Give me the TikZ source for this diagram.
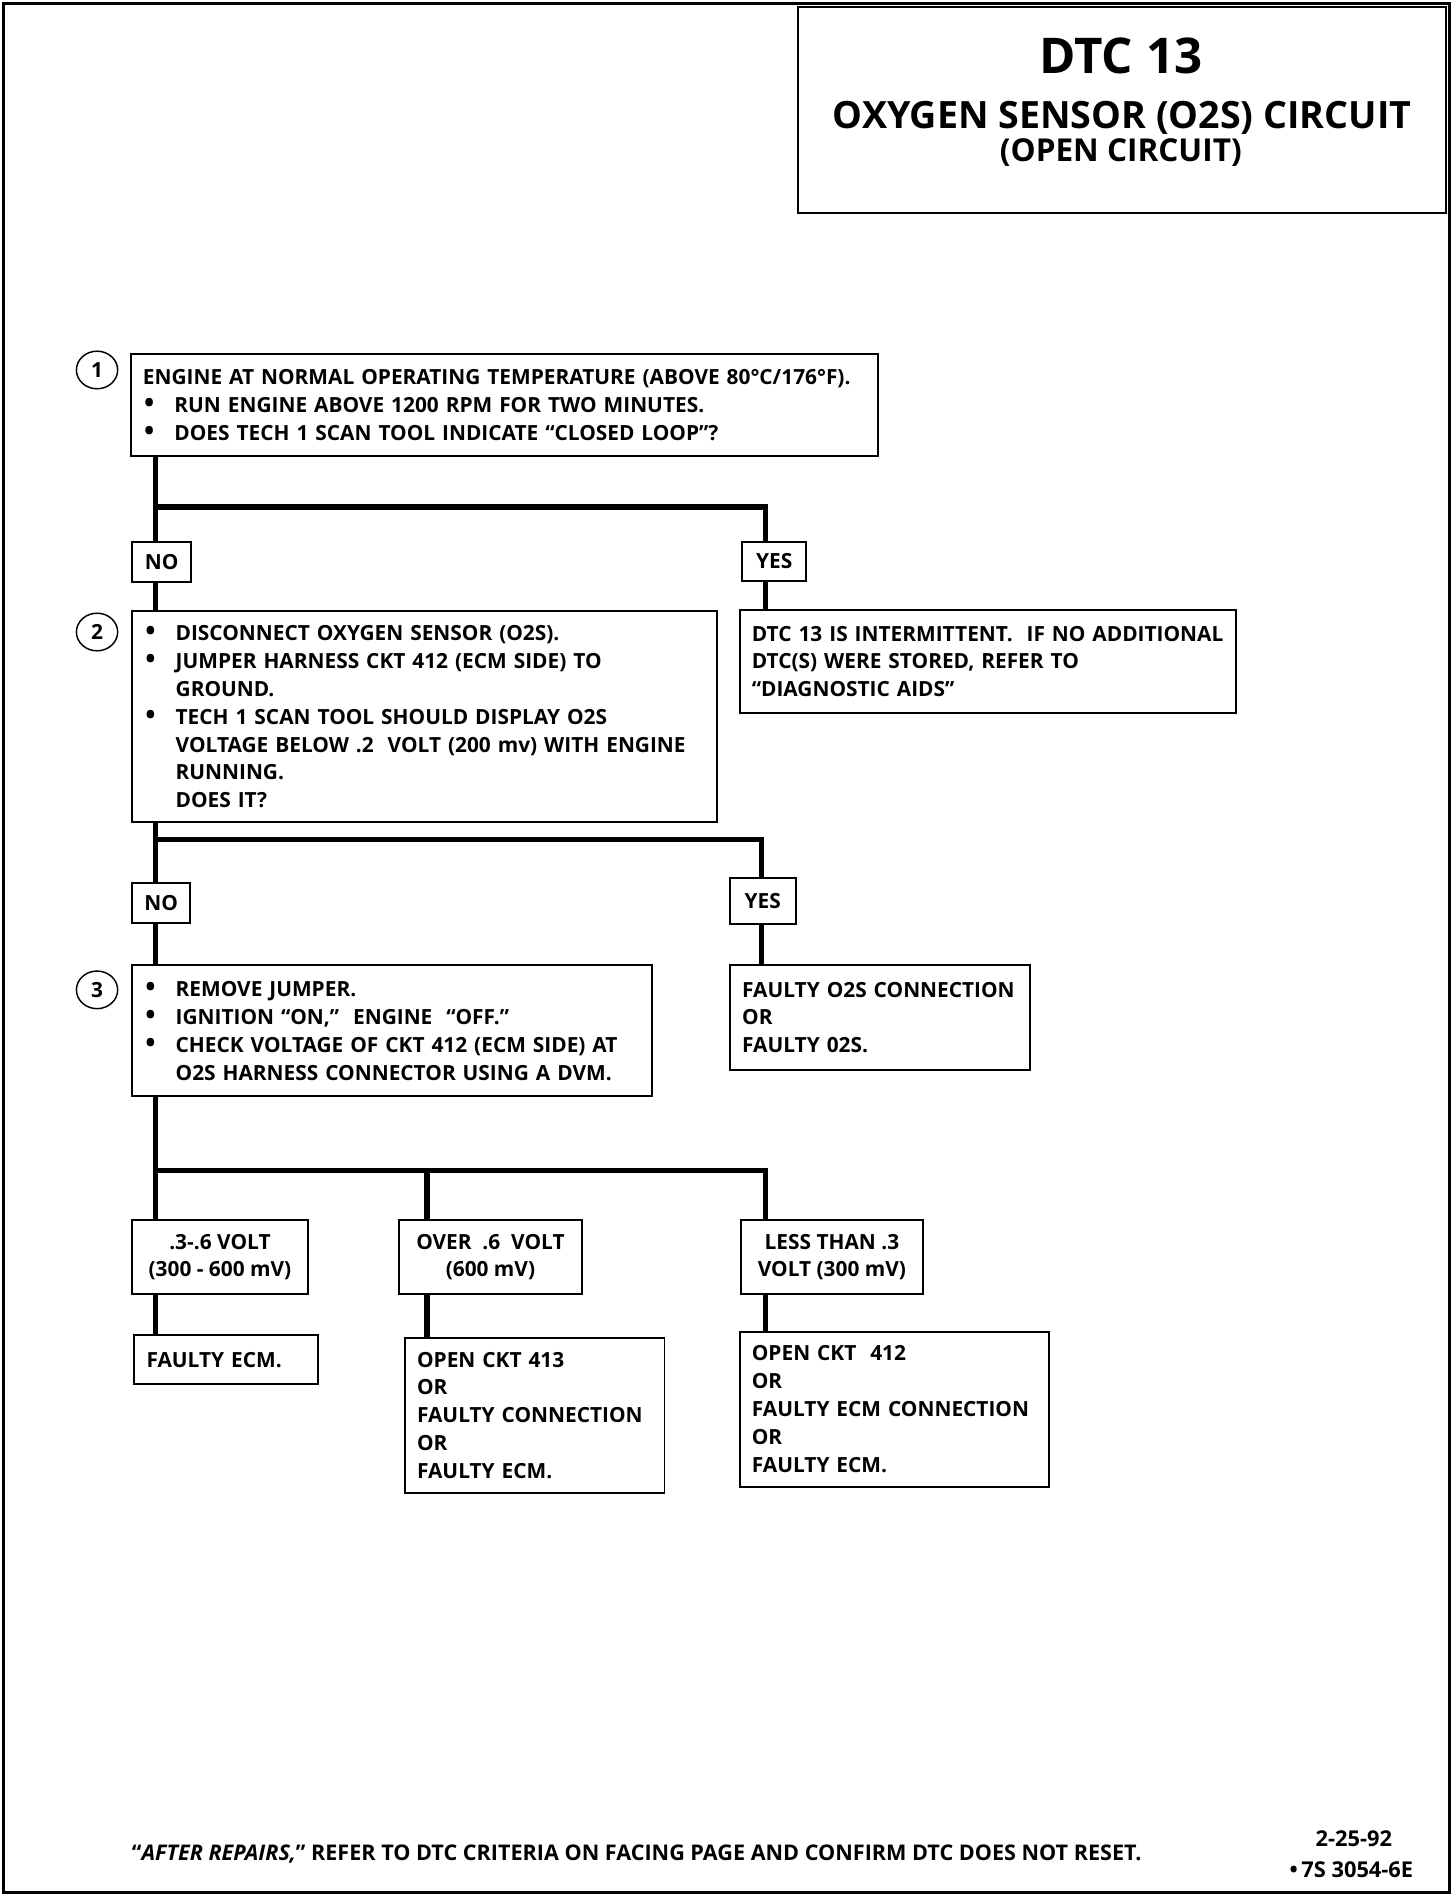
\documentclass[tikz,border=0pt]{standalone}
\usepackage{fontspec}
\setmainfont{Open Sans}
\usetikzlibrary{shapes.geometric}

\newcommand{\bul}{\makebox[13pt][l]{\hspace{0.5pt}\scalebox{1.3}{\textbullet}}}
\newcommand{\ind}{\hspace*{13pt}}

\begin{document}
\begin{tikzpicture}[x=0.5pt,y=-0.5pt,line width=0.8pt,
	box/.style={draw,anchor=north west,align=left,inner xsep=5pt,inner ysep=0pt,font=\fontsize{8.6}{11.5}\bfseries\selectfont},
	tag/.style={draw,anchor=north west,align=center,inner sep=0pt,font=\fontsize{8.6}{11.5}\bfseries\selectfont},
	num/.style={draw,ellipse,line width=0.6pt,minimum width=17pt,minimum height=15.5pt,inner sep=0pt,font=\fontsize{8.6}{10}\bfseries\selectfont},
	wire/.style={line width=2.2pt}]

	\useasboundingbox (0,0) rectangle (1200,1563);
	\draw[line width=1.1pt] (3,3) rectangle (1195,1560);

	% title
	\node[draw,anchor=north west,minimum width=267pt,minimum height=85pt] (title) at (657,5) {};
	\node[font=\fontsize{20.3}{21}\bfseries\selectfont] (dtc) at (924,46) {DTC 13};
	\node[font=\fontsize{15.5}{16}\bfseries\selectfont] (name) at (925,97) {OXYGEN SENSOR (O2S) CIRCUIT};
	\node[font=\fontsize{13}{13}\bfseries\selectfont] (kind) at (924,126) {(OPEN CIRCUIT)};

	% steps
	\node[num] (c1) at (80,305) {1};
	\node[num] (c2) at (80,521) {2};
	\node[num] (c3) at (80,816) {3};

	\node[box,text width=298pt,minimum height=42pt] (q1) at (107,291) {ENGINE AT NORMAL OPERATING TEMPERATURE (ABOVE 80°C/176°F).\\
		\bul RUN ENGINE ABOVE 1200 RPM FOR TWO MINUTES.\\
		\bul DOES TECH 1 SCAN TOOL INDICATE “CLOSED LOOP”?};
	\node[tag,minimum width=24.5pt,minimum height=16.5pt] (no1) at (108,446) {NO};
	\node[tag,minimum width=26.5pt,minimum height=16pt] (yes1) at (611,446) {YES};

	\node[box,text width=231pt,minimum height=87pt] (q2) at (108,503) {\bul DISCONNECT OXYGEN SENSOR (O2S).\\
		\bul JUMPER HARNESS CKT 412 (ECM SIDE) TO\\
		\ind GROUND.\\
		\bul TECH 1 SCAN TOOL SHOULD DISPLAY O2S\\
		\ind VOLTAGE BELOW .2 \ VOLT (200 mv) WITH ENGINE\\
		\ind RUNNING.\\
		\ind DOES IT?};
	\node[box,text width=194.5pt,minimum height=42.5pt] (r1) at (609,502) {DTC 13 IS INTERMITTENT. \ IF NO ADDITIONAL\\
		DTC(S) WERE STORED, REFER TO\\
		“DIAGNOSTIC AIDS”};
	\node[tag,minimum width=24pt,minimum height=16.5pt] (no2) at (108,727) {NO};
	\node[tag,minimum width=27pt,minimum height=19pt] (yes2) at (601,723) {YES};

	\node[box,text width=204.5pt,minimum height=54pt] (q3) at (108,795) {\bul REMOVE JUMPER.\\
		\bul IGNITION “ON,” \ ENGINE \ “OFF.”\\
		\bul CHECK VOLTAGE OF CKT 412 (ECM SIDE) AT\\
		\ind O2S HARNESS CONNECTOR USING A DVM.};
	\node[box,text width=113.5pt,minimum height=43pt] (r2) at (601,795) {FAULTY O2S CONNECTION\\
		OR\\
		FAULTY 02S.};

	\node[tag,minimum width=72.5pt,minimum height=30.5pt] (v1) at (108,1005) {.3-.6 VOLT\\(300 - 600 mV)};
	\node[tag,minimum width=75.5pt,minimum height=30.5pt] (v2) at (328,1005) {OVER \ .6 \ VOLT\\(600 mV)};
	\node[tag,minimum width=75pt,minimum height=30.5pt] (v3) at (610,1005) {LESS THAN .3\\VOLT (300 mV)};

	\node[box,text width=65.5pt,minimum height=20pt] (e1) at (110,1100) {FAULTY ECM.};
	\node[box,text width=97pt,minimum height=64pt] (e2) at (333,1102) {OPEN CKT 413\\
		OR\\
		FAULTY CONNECTION\\
		OR\\
		FAULTY ECM.};
	\node[box,text width=117.5pt,minimum height=64pt] (e3) at (609,1097) {OPEN CKT \ 412\\
		OR\\
		FAULTY ECM CONNECTION\\
		OR\\
		FAULTY ECM.};

	% junctions
	\coordinate (j1) at (128,418);
	\coordinate (k1) at (631,418);
	\coordinate (j2) at (128,692);
	\coordinate (k2) at (628,692);
	\coordinate (j3) at (128,965);
	\coordinate (k3) at (352,965);
	\coordinate (m3) at (631,965);

	\draw[wire] (q1.south -| j1) -- (no1.north -| j1);
	\draw[wire] (j1) -- (k1) -- (yes1.north -| k1);
	\draw[wire] (no1.south -| j1) -- (q2.north -| j1);
	\draw[wire] (yes1.south -| k1) -- (r1.north -| k1);

	\draw[wire] (q2.south -| j2) -- (no2.north -| j2);
	\draw[wire] (j2) -- (k2) -- (yes2.north -| k2);
	\draw[wire] (no2.south -| j2) -- (q3.north -| j2);
	\draw[wire] (yes2.south -| k2) -- (r2.north -| k2);

	\draw[wire] (q3.south -| j3) -- (v1.north -| j3);
	\draw[wire] (j3) -- (m3) -- (v3.north -| m3);
	\draw[wire] (k3) -- (v2.north -| k3);
	\draw[wire] (v1.south -| j3) -- (e1.north -| j3);
	\draw[wire] (v2.south -| k3) -- (e2.north -| k3);
	\draw[wire] (v3.south -| m3) -- (e3.north -| m3);

	% footer
	\node[anchor=west,inner sep=0pt,font=\fontsize{8.9}{10}\bfseries\selectfont] (note) at (108,1528) {“\textit{AFTER REPAIRS,}” REFER TO DTC CRITERIA ON FACING PAGE AND CONFIRM DTC DOES NOT RESET.};
	\node[font=\fontsize{9}{10}\bfseries\selectfont] (date) at (1116,1516) {2-25-92};
	\node[font=\fontsize{9}{10}\bfseries\selectfont] (code) at (1114,1541) {\textbullet\,7S 3054-6E};
\end{tikzpicture}
\end{document}
